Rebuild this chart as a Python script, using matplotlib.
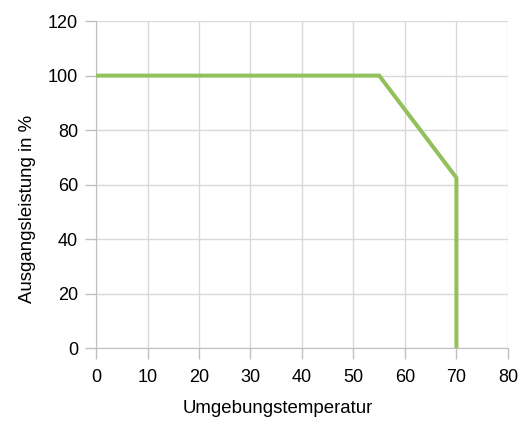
import matplotlib
matplotlib.use("Agg")
import matplotlib.pyplot as plt

temperature = [0, 55, 70, 70]
power = [100, 100, 62.5, 0]
x_ticks = [0, 10, 20, 30, 40, 50, 60, 70, 80]
y_ticks = [0, 20, 40, 60, 80, 100, 120]

plt.rcParams['font.family'] = ['Liberation Sans', 'DejaVu Sans']

fig = plt.figure(figsize=(5.22, 4.22), dpi=100)
ax = fig.add_axes([0.184, 0.175, 0.789, 0.775])
ax.plot(temperature, power, color='#92c05a', linewidth=2.9, solid_joinstyle='miter', zorder=3)
ax.set_xlim(0, 80)
ax.set_ylim(0, 120)
ax.set_xticks(x_ticks)
ax.set_yticks(y_ticks)
ax.grid(True, color='#d9d9d9', linewidth=1.0)
for s in ['top', 'right']:
    ax.spines[s].set_visible(False)
for s in ['left', 'bottom']:
    ax.spines[s].set_color('#bfbfbf')
ax.tick_params(axis='both', colors='#bfbfbf', labelcolor='black', labelsize=13, length=8, width=1)
ax.tick_params(axis='x', pad=7)
ax.tick_params(axis='y', pad=5)
ax.set_xlabel('Umgebungstemperatur', fontsize=13.4)
ax.set_ylabel('Ausgangsleistung in %', fontsize=13.4)
ax.xaxis.set_label_coords(0.442, -0.158)
ax.yaxis.set_label_coords(-0.145, 0.425)
fig.savefig('out.png', dpi=100)
